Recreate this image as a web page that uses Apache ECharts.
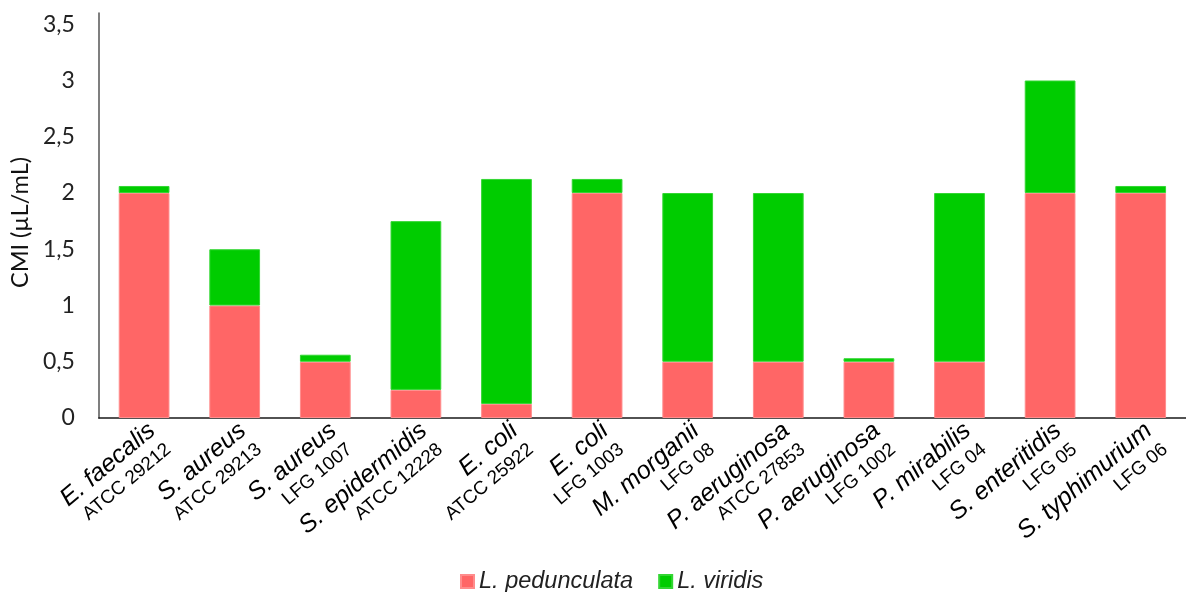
<!DOCTYPE html>
<html>
<head>
<meta charset="utf-8">
<script src="https://cdn.jsdelivr.net/npm/echarts@6/dist/echarts.min.js"></script>
<style>
  html, body { margin: 0; padding: 0; background: #fff; }
  #chart { width: 1186px; height: 592px; }
</style>
</head>
<body>
<div id="chart"></div>
<script>
// Bacterial strains (species name + strain code)
const species = [
  'E. faecalis', 'S. aureus', 'S. aureus', 'S. epidermidis', 'E. coli', 'E. coli',
  'M. morganii', 'P. aeruginosa', 'P. aeruginosa', 'P. mirabilis', 'S. enteritidis', 'S. typhimurium'
];
const strains = [
  'ATCC 29212', 'ATCC 29213', 'LFG 1007', 'ATCC 12228', 'ATCC 25922', 'LFG 1003',
  'LFG 08', 'ATCC 27853', 'LFG 1002', 'LFG 04', 'LFG 05', 'LFG 06'
];
// MIC values (µL/mL) for each essential oil
const pedunculata = [2, 1, 0.5, 0.25, 0.125, 2, 0.5, 0.5, 0.5, 0.5, 2, 2];
const viridis = [0.0625, 0.5, 0.0625, 1.5, 2, 0.125, 1.5, 1.5, 0.03125, 1.5, 1, 0.0625];
const seriesNames = ['L. pedunculata', 'L. viridis'];

const categories = species.map((s, i) => s + '|' + strains[i]);

const chart = echarts.init(document.getElementById('chart'));
chart.setOption({
  animation: false,
  backgroundColor: '#ffffff',
  textStyle: { fontFamily: 'Liberation Sans, Arial, sans-serif' },
  grid: { left: 97, right: -8, top: 13, bottom: 174, containLabel: false },
  legend: {
    left: 455,
    top: 565,
    itemWidth: 13,
    itemHeight: 13,
    itemGap: 25,
    icon: 'rect',
    textStyle: { fontSize: 23.5, fontStyle: 'italic', color: '#222', fontFamily: 'Liberation Sans, Arial, sans-serif' },
    data: seriesNames
  },
  xAxis: {
    type: 'category',
    data: categories,
    axisLine: { lineStyle: { color: '#1a1a1a', width: 1.5 } },
    axisTick: { show: false },
    axisLabel: {
      interval: 0,
      rotate: 40,
      align: 'right',
      verticalAlign: 'top',
      margin: 0,
      formatter: v => {
        const p = v.split('|');
        return '{sp|' + p[0] + '}\n{st|' + p[1] + '}';
      },
      rich: {
        sp: { fontSize: 25, fontStyle: 'italic', color: '#000', fontFamily: 'Liberation Sans, Arial, sans-serif', lineHeight: 25 },
        st: { fontSize: 19, color: '#000', fontFamily: 'Liberation Sans, Arial, sans-serif', lineHeight: 26 }
      }
    }
  },
  yAxis: {
    type: 'value',
    min: 0,
    max: 3.6,
    interval: 0.5,
    name: 'CMI (µL/mL)',
    nameLocation: 'middle',
    nameGap: 59,
    nameTextStyle: { fontSize: 23.5, color: '#111', fontFamily: 'Lato, sans-serif', padding: [0, 14, 0, 0] },
    splitLine: { show: false },
    axisTick: { show: false },
    axisLine: { show: true, lineStyle: { color: '#555', width: 1.5 } },
    axisLabel: {
      margin: 24,
      fontSize: 23,
      color: '#222',
      fontFamily: 'Lato, sans-serif',
      showMaxLabel: false,
      formatter: v => (v > 3.5 ? '' : String(v).replace('.', ','))
    }
  },
  series: [
    {
      name: seriesNames[0],
      type: 'bar',
      stack: 'cmi',
      data: pedunculata,
      barCategoryGap: '44%',
      itemStyle: { color: '#FF6666', borderColor: '#FF8C8C', borderWidth: 1 }
    },
    {
      name: seriesNames[1],
      type: 'bar',
      stack: 'cmi',
      data: viridis,
      barCategoryGap: '44%',
      itemStyle: { color: '#00CC00', borderColor: '#33D633', borderWidth: 1 }
    }
  ]
});
</script>
</body>
</html>
